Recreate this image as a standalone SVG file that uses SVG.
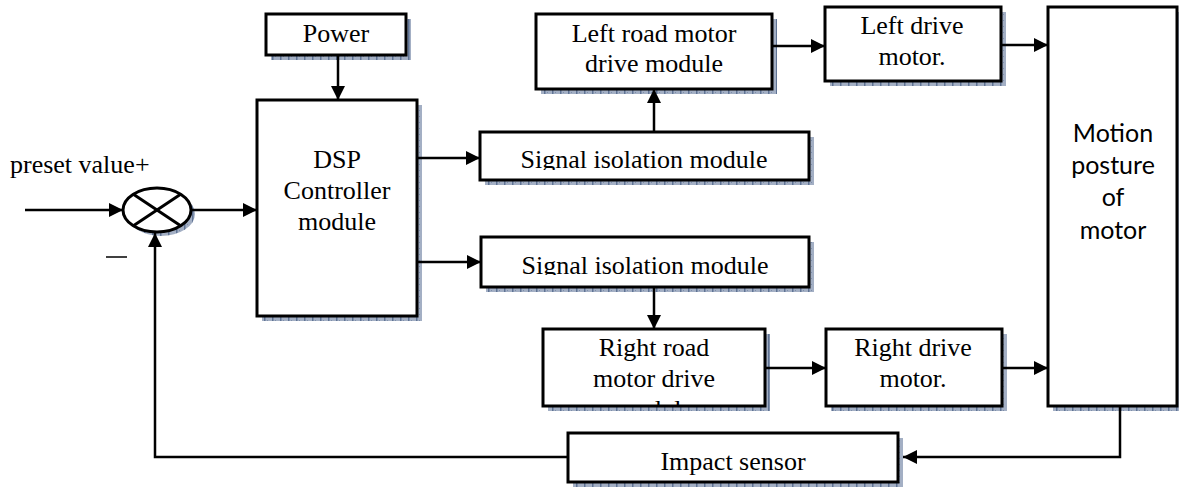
<svg xmlns="http://www.w3.org/2000/svg" width="1179" height="487" viewBox="0 0 1179 487">
<style>
.box{fill:#fff;stroke:#000;stroke-width:3}
.sh{fill:url(#shp)}
.t{font-family:"Liberation Serif","Times New Roman",serif;font-size:26px;fill:#000;text-anchor:middle}
.s{font-family:Lato,"Liberation Sans",sans-serif;font-size:25px;fill:#000;text-anchor:middle}
.c{fill:none;stroke:#000;stroke-width:2.5}
</style>
<defs>
<pattern id="shp" width="8" height="6" patternUnits="userSpaceOnUse">
<rect width="8" height="6" fill="#a3afc4"/>
<rect x="0" y="0" width="1.5" height="6" fill="#5f7394"/>
<rect x="3" y="2" width="1" height="1" fill="#7d8eaa"/>
</pattern>
<marker id="ah" markerUnits="userSpaceOnUse" markerWidth="16" markerHeight="14" refX="14" refY="7" orient="auto">
<path d="M0,0 L14,7 L0,14 Z" fill="#000"/>
</marker>
<clipPath id="cp1"><rect x="480" y="132" width="329" height="38"/></clipPath>
<clipPath id="cp2"><rect x="481" y="237" width="328" height="38"/></clipPath>
<clipPath id="cp3"><rect x="543" y="329" width="222" height="77"/></clipPath>
</defs>

<g id="sum">
<ellipse cx="161" cy="214" rx="34" ry="22" class="sh"/>
<ellipse cx="157" cy="210" rx="34" ry="22" class="box"/>
<line x1="133" y1="194" x2="181" y2="226" stroke="#000" stroke-width="3"/>
<line x1="133" y1="226" x2="181" y2="194" stroke="#000" stroke-width="3"/>
</g>

<g id="power">
<rect x="271" y="19" width="140" height="41" class="sh"/>
<rect x="266" y="14" width="140" height="41" class="box"/>
<text x="336" y="42" class="t">Power</text>
</g>

<g id="dsp">
<rect x="262" y="105" width="160" height="216" class="sh"/>
<rect x="257" y="100" width="160" height="216" class="box"/>
<text x="337" y="168" class="t">DSP</text>
<text x="337" y="199" class="t">Controller</text>
<text x="337" y="230" class="t">module</text>
</g>

<g id="sig1">
<rect x="485" y="137" width="329" height="48" class="sh"/>
<rect x="480" y="132" width="329" height="48" class="box"/>
<text x="644" y="168" class="t" clip-path="url(#cp1)">Signal isolation module</text>
</g>

<g id="sig2">
<rect x="486" y="242" width="328" height="50" class="sh"/>
<rect x="481" y="237" width="328" height="50" class="box"/>
<text x="645" y="274" class="t" clip-path="url(#cp2)">Signal isolation module</text>
</g>

<g id="leftroad">
<rect x="541" y="19" width="236" height="75" class="sh"/>
<rect x="536" y="14" width="236" height="75" class="box"/>
<text x="654" y="42" class="t">Left road motor</text>
<text x="654" y="72" class="t">drive module</text>
</g>

<g id="rightroad">
<rect x="548" y="334" width="222" height="77" class="sh"/>
<rect x="543" y="329" width="222" height="77" class="box"/>
<g clip-path="url(#cp3)">
<text x="654" y="356" class="t">Right road</text>
<text x="654" y="387" class="t">motor drive</text>
<text x="654" y="418" class="t">module</text>
</g>
</g>

<g id="leftdrive">
<rect x="830" y="12" width="176" height="74" class="sh"/>
<rect x="825" y="7" width="176" height="74" class="box"/>
<text x="912" y="34" class="t">Left drive</text>
<text x="912" y="65" class="t">motor.</text>
</g>

<g id="rightdrive">
<rect x="831" y="334" width="176" height="77" class="sh"/>
<rect x="826" y="329" width="176" height="77" class="box"/>
<text x="913" y="356" class="t">Right drive</text>
<text x="913" y="387" class="t">motor.</text>
</g>

<g id="motion">
<rect x="1053" y="12" width="130" height="399" class="sh"/>
<rect x="1048" y="7" width="129" height="399" class="box"/>
<text x="1113" y="142" class="s">Motion</text>
<text x="1113" y="174" class="s">posture</text>
<text x="1113" y="206" class="s">of</text>
<text x="1113" y="239" class="s">motor</text>
</g>

<g id="impact">
<rect x="573" y="438" width="330" height="49" class="sh"/>
<rect x="568" y="433" width="330" height="49" class="box"/>
<text x="733" y="470" class="t">Impact sensor</text>
</g>

<g id="labels">
<text x="10" y="173" font-family="Liberation Serif,serif" font-size="26" fill="#000">preset value+</text>
<line x1="106" y1="257" x2="127" y2="257" stroke="#000" stroke-width="1.5"/>
</g>

<g id="connectors">
<line x1="25" y1="210" x2="123" y2="210" class="c" marker-end="url(#ah)"/>
<line x1="191" y1="210" x2="257" y2="210" class="c" marker-end="url(#ah)"/>
<line x1="338" y1="55" x2="338" y2="100" class="c" marker-end="url(#ah)"/>
<line x1="417" y1="158" x2="480" y2="158" class="c" marker-end="url(#ah)"/>
<line x1="417" y1="262" x2="481" y2="262" class="c" marker-end="url(#ah)"/>
<line x1="654" y1="132" x2="654" y2="89" class="c" marker-end="url(#ah)"/>
<line x1="654" y1="287" x2="654" y2="329" class="c" marker-end="url(#ah)"/>
<line x1="772" y1="46" x2="825" y2="46" class="c" marker-end="url(#ah)"/>
<line x1="765" y1="368" x2="826" y2="368" class="c" marker-end="url(#ah)"/>
<line x1="1001" y1="45" x2="1048" y2="45" class="c" marker-end="url(#ah)"/>
<line x1="1002" y1="368" x2="1048" y2="368" class="c" marker-end="url(#ah)"/>
<polyline points="1120,406 1120,457 903,457" class="c" marker-end="url(#ah)"/>
<polyline points="568,457 155,457 155,233" class="c" marker-end="url(#ah)"/>
</g>
</svg>
